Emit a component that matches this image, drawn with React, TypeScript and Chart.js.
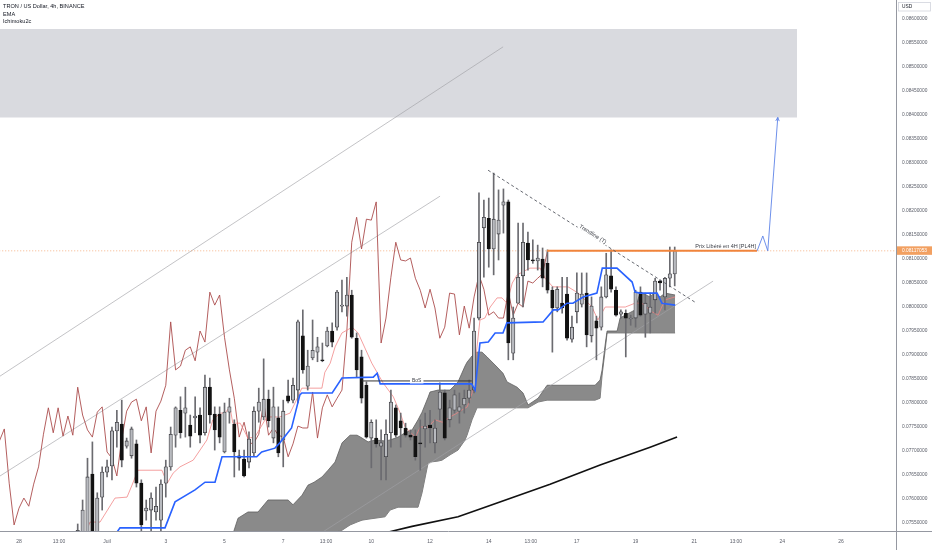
import React, { useEffect, useRef } from "react";
import { Chart, registerables } from "chart.js";

Chart.register(...registerables);

// ---------- Candles (4h bars, bar index 0 = 30 juin 00:00) ----------
const opens = [
  0.07504, 0.07515, 0.07504, 0.07652, 0.07515, 0.07604, 0.07656, 0.07669, 0.07742, 0.07756,
  0.07710, 0.07690, 0.07715, 0.07633, 0.07575, 0.07577, 0.07573, 0.07556, 0.07633, 0.07667,
  0.07733, 0.07785, 0.07779, 0.07754, 0.07769, 0.07775, 0.07738, 0.07833, 0.07777, 0.07777,
  0.07698, 0.07781, 0.07756, 0.07690, 0.07683, 0.07677, 0.07696, 0.07783, 0.07771, 0.07808,
  0.07727, 0.07769, 0.07723, 0.07815, 0.07806, 0.07827, 0.07940, 0.07835, 0.07894, 0.07906,
  0.07890, 0.07919, 0.07950, 0.07958, 0.08002, 0.08002, 0.08025, 0.07935, 0.07896, 0.07837,
  0.07727, 0.07727, 0.07710, 0.07688, 0.07738, 0.07790, 0.07763, 0.07748, 0.07733, 0.07731,
  0.07717, 0.07746, 0.07754, 0.07717, 0.07787, 0.07821, 0.07765, 0.07785, 0.07783, 0.07796,
  0.07810, 0.07827, 0.07977, 0.08165, 0.08185, 0.08121, 0.08152, 0.08212, 0.08219, 0.07904,
  0.08008, 0.08065, 0.08133, 0.08098, 0.08096, 0.08100, 0.08091, 0.08035, 0.07998, 0.08008,
  0.08027, 0.07933, 0.07990, 0.08006, 0.08029, 0.07940, 0.07971, 0.07958, 0.08021, 0.08065,
  0.08035, 0.07985, 0.07987, 0.07975, 0.07977, 0.08031, 0.07985, 0.07987, 0.08015, 0.08054,
  0.08021, 0.08060, 0.08069,
];
const highs = [
  0.07548, 0.07598, 0.07685, 0.07719, 0.07613, 0.07667, 0.07681, 0.07750, 0.07785, 0.07806,
  0.07727, 0.07750, 0.07723, 0.07640, 0.07598, 0.07613, 0.07625, 0.07640, 0.07681, 0.07750,
  0.07792, 0.07813, 0.07833, 0.07775, 0.07813, 0.07790, 0.07858, 0.07852, 0.07792, 0.07792,
  0.07800, 0.07810, 0.07765, 0.07702, 0.07702, 0.07740, 0.07792, 0.07831, 0.07892, 0.07827,
  0.07833, 0.07792, 0.07806, 0.07848, 0.07852, 0.07973, 0.07994, 0.07910, 0.07973, 0.07937,
  0.07925, 0.07958, 0.07967, 0.08035, 0.08056, 0.08062, 0.08035, 0.07946, 0.07910, 0.07844,
  0.07765, 0.07765, 0.07744, 0.07765, 0.07827, 0.07796, 0.07779, 0.07758, 0.07744, 0.07744,
  0.07765, 0.07779, 0.07785, 0.07765, 0.07842, 0.07827, 0.07806, 0.07827, 0.07821, 0.07827,
  0.07848, 0.07977, 0.08238, 0.08223, 0.08227, 0.08279, 0.08244, 0.08246, 0.08223, 0.08000,
  0.08175, 0.08175, 0.08156, 0.08140, 0.08129, 0.08123, 0.08119, 0.08042, 0.08042, 0.08062,
  0.08062, 0.07981, 0.08071, 0.08071, 0.08071, 0.08021, 0.07981, 0.08042, 0.08112, 0.08119,
  0.08042, 0.07994, 0.07994, 0.07983, 0.08035, 0.08042, 0.08029, 0.08029, 0.08060, 0.08056,
  0.08062, 0.08125, 0.08125,
];
const lows = [
  0.07494, 0.07504, 0.07494, 0.07494, 0.07504, 0.07577, 0.07646, 0.07640, 0.07708, 0.07667,
  0.07706, 0.07685, 0.07625, 0.07529, 0.07556, 0.07521, 0.07556, 0.07521, 0.07604, 0.07660,
  0.07708, 0.07727, 0.07729, 0.07708, 0.07738, 0.07717, 0.07733, 0.07758, 0.07702, 0.07717,
  0.07696, 0.07758, 0.07646, 0.07660, 0.07646, 0.07665, 0.07688, 0.07760, 0.07765, 0.07750,
  0.07717, 0.07688, 0.07667, 0.07800, 0.07800, 0.07800, 0.07862, 0.07827, 0.07890, 0.07886,
  0.07886, 0.07917, 0.07917, 0.07952, 0.07990, 0.07981, 0.07935, 0.07854, 0.07800, 0.07727,
  0.07665, 0.07708, 0.07640, 0.07640, 0.07708, 0.07729, 0.07708, 0.07729, 0.07723, 0.07681,
  0.07660, 0.07708, 0.07717, 0.07696, 0.07765, 0.07723, 0.07750, 0.07779, 0.07758, 0.07779,
  0.07800, 0.07821, 0.07973, 0.08062, 0.08083, 0.08067, 0.08098, 0.08154, 0.07890, 0.07890,
  0.08008, 0.08000, 0.08077, 0.08091, 0.08077, 0.08042, 0.08029, 0.07906, 0.07990, 0.07987,
  0.07931, 0.07927, 0.07967, 0.08000, 0.07917, 0.07927, 0.07890, 0.07952, 0.08019, 0.08031,
  0.07981, 0.07977, 0.07896, 0.07962, 0.07958, 0.07981, 0.07937, 0.07946, 0.07987, 0.08035,
  0.07994, 0.08042, 0.08044,
];
const closes = [
  0.07535, 0.07577, 0.07646, 0.07504, 0.07602, 0.07656, 0.07667, 0.07742, 0.07760, 0.07681,
  0.07721, 0.07746, 0.07633, 0.07546, 0.07581, 0.07602, 0.07585, 0.07631, 0.07667, 0.07735,
  0.07790, 0.07738, 0.07790, 0.07731, 0.07773, 0.07733, 0.07833, 0.07775, 0.07744, 0.07729,
  0.07781, 0.07792, 0.07698, 0.07685, 0.07648, 0.07725, 0.07783, 0.07802, 0.07808, 0.07763,
  0.07792, 0.07696, 0.07783, 0.07804, 0.07837, 0.07969, 0.07869, 0.07877, 0.07910, 0.07917,
  0.07888, 0.07950, 0.07927, 0.08031, 0.08004, 0.08025, 0.07937, 0.07869, 0.07810, 0.07729,
  0.07760, 0.07715, 0.07717, 0.07735, 0.07802, 0.07733, 0.07748, 0.07733, 0.07729, 0.07688,
  0.07715, 0.07752, 0.07748, 0.07748, 0.07823, 0.07727, 0.07790, 0.07817, 0.07792, 0.07810,
  0.07827, 0.07950, 0.08135, 0.08187, 0.08121, 0.08183, 0.08181, 0.08219, 0.07925, 0.07977,
  0.08062, 0.08135, 0.08098, 0.08096, 0.08102, 0.08060, 0.08035, 0.07998, 0.08037, 0.07998,
  0.07935, 0.07958, 0.08029, 0.08027, 0.07942, 0.08002, 0.07956, 0.08021, 0.08067, 0.08037,
  0.07983, 0.07990, 0.07977, 0.07977, 0.08031, 0.07983, 0.08008, 0.08000, 0.08054, 0.08050,
  0.08060, 0.08069, 0.08117,
];
const CHIKOU_SHIFT = 26;

// ---------- Ichimoku / EMA (x = bar index) ----------
const kijunIdx = [7.21, 8.64, 17.84, 19.89, 23.97, 26.02, 28.06, 29.49, 36.58, 37.6, 40.3, 41.3, 43.7, 45.4, 45.8, 52.0, 54.0, 60.4, 61.2, 61.8, 80.5, 81.2, 82.2, 83.9, 85.3, 86.9, 87.7, 95.1, 97.2, 98.2, 100.0, 101.2, 103.3, 106.1, 107.2, 110.2, 113.3, 113.9, 114.9, 118.4, 119.4, 122.1];
const kijunVal = [0.07519, 0.0754, 0.0754, 0.07594, 0.07619, 0.07635, 0.07635, 0.07688, 0.07688, 0.07698, 0.07706, 0.07717, 0.07748, 0.07817, 0.07821, 0.07821, 0.07852, 0.07854, 0.07862, 0.0784, 0.0784, 0.07827, 0.07925, 0.07927, 0.07946, 0.07946, 0.07967, 0.07969, 0.07994, 0.07994, 0.08008, 0.08008, 0.08021, 0.08029, 0.08081, 0.08081, 0.08052, 0.08031, 0.08029, 0.08029, 0.08008, 0.08004];

const tenkanIdx = [1.49, 2.51, 4.56, 7.62, 10.08, 11.1, 12.3, 17.2, 18.3, 19.5, 20.9, 23.6, 26.4, 27.6, 29.1, 30.1, 31.1, 31.7, 33.2, 34.8, 36.2, 38.3, 39.3, 41.3, 43.4, 44.4, 45.8, 49.9, 50.5, 51.6, 52.6, 54.0, 56.1, 57.3, 60.1, 62.4, 64.5, 65.9, 66.9, 69.0, 70.0, 71.6, 73.0, 74.5, 76.1, 77.5, 79.6, 80.6, 81.6, 82.2, 83.2, 84.3, 85.7, 86.7, 87.7, 88.8, 89.8, 92.4, 94.5, 95.5, 97.1, 100.2, 102.3, 105.1, 106.3, 107.8, 111.9, 113.9, 115.3, 117.4, 118.6, 120.0, 122.1];
const tenkanVal = [0.07525, 0.07552, 0.07552, 0.07602, 0.07604, 0.07629, 0.0766, 0.0766, 0.07633, 0.07654, 0.07667, 0.07681, 0.07723, 0.07765, 0.07779, 0.07779, 0.07792, 0.07758, 0.07758, 0.07727, 0.07729, 0.07765, 0.07771, 0.07771, 0.07779, 0.078, 0.07831, 0.07831, 0.07864, 0.07883, 0.07917, 0.07946, 0.07958, 0.07946, 0.07883, 0.07842, 0.07813, 0.07779, 0.0775, 0.07729, 0.0775, 0.0775, 0.07765, 0.0776, 0.07771, 0.07779, 0.07792, 0.07821, 0.07917, 0.07973, 0.07977, 0.08, 0.08019, 0.08019, 0.08008, 0.0805, 0.08067, 0.08081, 0.08081, 0.0806, 0.08042, 0.08042, 0.08029, 0.08, 0.07973, 0.08, 0.08, 0.08008, 0.08008, 0.0799, 0.07983, 0.08015, 0.08021];

const cloudIdx = [31.33, 32.76, 34.8, 36.85, 38.89, 42.98, 44.0, 45.84, 47.07, 47.89, 48.3, 49.93, 51.16, 52.59, 54.02, 55.66, 57.09, 58.11, 59.34, 60.77, 62.81, 63.83, 65.46, 66.9, 68.33, 69.55, 70.37, 71.6, 72.0, 73.64, 74.45, 76.09, 77.72, 79.15, 79.56, 80.58, 81.6, 82.62, 83.65, 85.69, 86.91, 87.73, 89.78, 91.0, 92.03, 94.08, 95.92, 105.73, 106.75, 107.16, 107.78, 108.18, 110.23, 110.84, 111.86, 113.91, 114.93, 116.97, 117.99, 119.01, 120.04, 122.08];
const cloudTop = [0.07515, 0.0756, 0.07573, 0.07573, 0.07598, 0.07598, 0.07588, 0.07608, 0.07629, 0.07633, 0.07635, 0.07646, 0.0766, 0.07677, 0.07717, 0.07733, 0.07733, 0.07727, 0.07719, 0.07723, 0.07721, 0.07723, 0.07729, 0.07738, 0.07744, 0.07765, 0.07781, 0.07812, 0.07823, 0.07827, 0.07827, 0.07827, 0.07844, 0.07877, 0.07885, 0.07898, 0.07906, 0.07906, 0.07896, 0.07875, 0.07862, 0.07844, 0.07833, 0.07821, 0.07796, 0.0781, 0.07837, 0.07837, 0.07848, 0.07869, 0.07921, 0.0795, 0.0795, 0.07977, 0.07983, 0.07994, 0.08031, 0.08021, 0.08031, 0.08021, 0.08029, 0.08025];
const cloudBottom = [0.07504, 0.07504, 0.07504, 0.07504, 0.07504, 0.07504, 0.07504, 0.07504, 0.07504, 0.07504, 0.07531, 0.07531, 0.07531, 0.07531, 0.07535, 0.07546, 0.07552, 0.07556, 0.07558, 0.0756, 0.07563, 0.07577, 0.07583, 0.07583, 0.07583, 0.07583, 0.07613, 0.07675, 0.07677, 0.07679, 0.07681, 0.07692, 0.07702, 0.07723, 0.07733, 0.07765, 0.0779, 0.0779, 0.0779, 0.0779, 0.0779, 0.0779, 0.0779, 0.0779, 0.0779, 0.07802, 0.07806, 0.07806, 0.0781, 0.07858, 0.0791, 0.07946, 0.07946, 0.07946, 0.07946, 0.07946, 0.07946, 0.07946, 0.07946, 0.07946, 0.07946, 0.07946];

const emaIdx = [56.67, 61.78, 68.33, 77.72, 83.24, 96.53, 106.75, 116.97, 122.48];
const emaVal = [0.07515, 0.07527, 0.07543, 0.07563, 0.07583, 0.07631, 0.07671, 0.07708, 0.07729];

// ---------- Drawings ----------
const channelAIdx = [-15.88, 86.93];
const channelAVal = [0.07856, 0.08542];
const channelBIdx = [-15.88, 74.05];
const channelBVal = [0.07648, 0.08231];
const channelCIdx = [48.5, 129.84];
const channelCVal = [0.07521, 0.08054];
const trendIdx = [83.86, 126.16];
const trendVal = [0.08285, 0.0801];
const lastPrice = 0.08117053;
const levelSolidIdx = [95.92, 138.84];
const projIdx = [138.84, 140.0, 141.02, 143.06];
const projVal = [0.08117, 0.08148, 0.08117, 0.08395];
const zoneIdx = [-16, 147.0];
const zoneTop = 0.08579;
const zoneBottom = 0.08395;
const bosIdx = [58.04, 80.52];
const bosVal = 0.07846;

// ---------- Axes ----------
const X_MIN = -15.88;
const X_MAX = 167.22;
const Y_MIN = 0.075334;
const Y_MAX = 0.086396;
const xTickPos = [-12, -3.83, 6, 18, 30, 42, 50.74, 60, 72, 84, 92.6, 102, 114, 126, 134.5, 144, 156];
const xTickLabels = ["28", "13:00", "Juil", "3", "5", "7", "13:00", "10", "12", "14", "13:00", "17", "19", "21", "13:00", "24", "26"];
const yTicks = [0.0755, 0.076, 0.0765, 0.077, 0.0775, 0.078, 0.0785, 0.079, 0.0795, 0.08, 0.0805, 0.081, 0.0815, 0.082, 0.0825, 0.083, 0.0835, 0.084, 0.0845, 0.085, 0.0855, 0.086];
const legendLines = ["TRON / US Dollar, 4h, BINANCE", "EMA", "Ichimoku2c"];

const FONT = "'Liberation Sans', Arial, sans-serif";

const pts = (xs: number[], ys: number[]) => xs.map((v, i) => ({ x: v, y: ys[i] }));

const line = (data: any[], color: string, width: number, order: number, extra: any = {}) => ({
  type: "line" as const,
  data,
  borderColor: color,
  borderWidth: width,
  pointRadius: 0,
  tension: 0,
  fill: false,
  order,
  ...extra,
});

const annotations = {
  id: "tvAnnotations",
  afterDraw(chart: any) {
    const { ctx, chartArea } = chart;
    const xs = chart.scales.x;
    const ys = chart.scales.y;
    ctx.save();

    // axis extensions
    ctx.strokeStyle = "#9598a1";
    ctx.lineWidth = 1;
    ctx.beginPath();
    ctx.moveTo(chartArea.right + 0.5, chartArea.bottom);
    ctx.lineTo(chartArea.right + 0.5, chart.height);
    ctx.moveTo(chartArea.right, chartArea.bottom + 0.5);
    ctx.lineTo(chart.width, chartArea.bottom + 0.5);
    ctx.stroke();

    // legend
    ctx.textAlign = "left";
    ctx.textBaseline = "middle";
    ctx.fillStyle = "#131722";
    ctx.font = `5.6px ${FONT}`;
    ctx.fillText(legendLines[0], 3, 6.8);
    ctx.fillText(legendLines[1], 3, 14.4);
    ctx.fillText(legendLines[2], 3, 21.8);

    // USD box
    ctx.strokeStyle = "#d1d4dc";
    ctx.lineWidth = 0.8;
    ctx.strokeRect(898.5, 2.5, 32, 8.5);
    ctx.fillStyle = "#131722";
    ctx.font = `4.8px ${FONT}`;
    ctx.fillText("USD", 902, 6.8);

    // price label
    const py = ys.getPixelForValue(lastPrice);
    ctx.fillStyle = "#f2a061";
    ctx.fillRect(chartArea.right + 1, py - 4.5, 35, 8.5);
    ctx.fillStyle = "#ffffff";
    ctx.font = `4.8px ${FONT}`;
    ctx.fillText(lastPrice.toFixed(8), chartArea.right + 6, py - 0.2);

    // PL4H text
    ctx.fillStyle = "#3a3d45";
    ctx.font = `5.5px ${FONT}`;
    ctx.textAlign = "right";
    ctx.textBaseline = "bottom";
    ctx.fillText("Prix Libéré en 4H [PL4H]", xs.getPixelForValue(levelSolidIdx[1]) - 1, py - 1.5);

    // Trendline text
    const x1 = xs.getPixelForValue(trendIdx[0]);
    const y1 = ys.getPixelForValue(trendVal[0]);
    const x2 = xs.getPixelForValue(trendIdx[1]);
    const y2 = ys.getPixelForValue(trendVal[1]);
    const ang = Math.atan2(y2 - y1, x2 - x1);
    const mx = (x1 + x2) / 2 + Math.sin(ang) * 2.2;
    const my = (y1 + y2) / 2 - Math.cos(ang) * 2.2;
    ctx.save();
    ctx.translate(mx, my);
    ctx.rotate(ang);
    ctx.font = `5.5px ${FONT}`;
    const tw = ctx.measureText("Trendline (T)").width;
    ctx.fillStyle = "#ffffff";
    ctx.fillRect(-tw / 2 - 1, -3, tw + 2, 6);
    ctx.fillStyle = "#3a3d45";
    ctx.textAlign = "center";
    ctx.textBaseline = "middle";
    ctx.fillText("Trendline (T)", 0, 0);
    ctx.restore();

    // BoS text
    const bx = xs.getPixelForValue((bosIdx[0] + bosIdx[1]) / 2);
    const by = ys.getPixelForValue(bosVal);
    ctx.font = `5px ${FONT}`;
    const bw = ctx.measureText("BoS").width;
    ctx.fillStyle = "#ffffff";
    ctx.fillRect(bx - bw / 2 - 2, by - 2.5, bw + 4, 5);
    ctx.fillStyle = "#3a3d45";
    ctx.textAlign = "center";
    ctx.textBaseline = "middle";
    ctx.fillText("BoS", bx, by);

    // projection arrow head
    const n = projIdx.length;
    const ax = xs.getPixelForValue(projIdx[n - 1]);
    const ay = ys.getPixelForValue(projVal[n - 1]);
    const bx2 = xs.getPixelForValue(projIdx[n - 2]);
    const by2 = ys.getPixelForValue(projVal[n - 2]);
    const a = Math.atan2(ay - by2, ax - bx2);
    ctx.strokeStyle = "rgba(85,125,230,0.85)";
    ctx.lineWidth = 1;
    ctx.beginPath();
    ctx.moveTo(ax - 4 * Math.cos(a - 0.45), ay - 4 * Math.sin(a - 0.45));
    ctx.lineTo(ax, ay);
    ctx.lineTo(ax - 4 * Math.cos(a + 0.45), ay - 4 * Math.sin(a + 0.45));
    ctx.stroke();

    ctx.restore();
  },
};

export default function App() {
  const ref = useRef<HTMLCanvasElement | null>(null);

  useEffect(() => {
    if (!ref.current) return;
    const upColor = "#b8babf";
    const downColor = "#121212";
    const isUp = opens.map((o, i) => closes[i] >= o);

    const datasets: any[] = [
      line(pts(zoneIdx, [zoneTop, zoneTop]), "rgba(0,0,0,0)", 0, 100, {
        fill: { value: zoneBottom },
        backgroundColor: "#d9dadf",
      }),
      line(pts(channelAIdx, channelAVal), "rgba(160,160,165,0.8)", 0.8, 90),
      line(pts(channelBIdx, channelBVal), "rgba(160,160,165,0.8)", 0.8, 90),
      line(pts(cloudIdx, cloudTop), "#5e5e5e", 0.8, 80, {
        fill: "+1",
        backgroundColor: "rgba(128,128,128,0.92)",
      }),
      line(pts(cloudIdx, cloudBottom), "#5e5e5e", 0.8, 80),
      line(pts(channelCIdx, channelCVal), "rgba(160,160,165,0.8)", 0.8, 78),
      line(pts(emaIdx, emaVal), "#111111", 1.6, 70),
      line(pts([X_MIN - 2, X_MAX + 2], [lastPrice, lastPrice]), "rgba(240,150,90,0.9)", 0.8, 65, {
        borderDash: [1, 2],
      }),
      line(
        closes.map((c, i) => ({ x: i - CHIKOU_SHIFT, y: c })),
        "rgba(172,78,78,0.9)",
        1,
        60
      ),
      line(pts(tenkanIdx, tenkanVal), "rgba(240,130,130,0.85)", 0.9, 55),
      {
        type: "bar",
        data: highs.map((h, i) => ({ x: i, y: [lows[i], h] })),
        backgroundColor: "#6b6b70",
        barThickness: 1,
        grouped: false,
        order: 50,
      },
      {
        type: "bar",
        data: opens.map((o, i) => ({ x: i, y: [o, closes[i]] })),
        backgroundColor: isUp.map((u) => (u ? upColor : downColor)),
        borderColor: isUp.map((u) => (u ? "#3c3c40" : downColor)),
        borderWidth: 0.8,
        borderSkipped: false,
        minBarLength: 1,
        barThickness: 3.4,
        grouped: false,
        order: 45,
      },
      line(pts(kijunIdx, kijunVal), "#2962ff", 1.6, 40),
      line(pts(levelSolidIdx, [lastPrice, lastPrice]), "#f0843c", 2, 35),
      line(pts(trendIdx, trendVal), "#555861", 0.9, 30, { borderDash: [3, 2.5] }),
      line(pts(projIdx, projVal), "rgba(85,125,230,0.85)", 1, 25),
      line(pts(bosIdx, [bosVal, bosVal]), "#333333", 1, 20),
    ];

    const noPad = (axis: any) => {
      axis.paddingTop = 0;
      axis.paddingBottom = 0;
      axis.paddingLeft = 0;
      axis.paddingRight = 0;
    };

    const chart = new Chart(ref.current, {
      type: "bar",
      data: { datasets },
      plugins: [annotations],
      options: {
        animation: false,
        responsive: false,
        events: [],
        layout: { padding: 0 },
        plugins: { legend: { display: false }, tooltip: { enabled: false } },
        scales: {
          x: {
            type: "linear",
            min: X_MIN,
            max: X_MAX,
            offset: false,
            grid: { display: false, drawTicks: false },
            border: { display: true, color: "#9598a1", width: 1 },
            afterBuildTicks: (axis: any) => {
              axis.ticks = xTickPos.map((v) => ({ value: v }));
            },
            afterFit: (axis: any) => {
              axis.height = 19;
              noPad(axis);
            },
            ticks: {
              autoSkip: false,
              maxRotation: 0,
              padding: 8,
              color: "#5d606b",
              font: { size: 5, family: FONT },
              callback: (_v: any, i: number) => xTickLabels[i],
            },
          },
          y: {
            type: "linear",
            position: "right",
            min: Y_MIN,
            max: Y_MAX,
            grid: { display: false, drawTicks: false },
            border: { display: true, color: "#9598a1", width: 1 },
            afterBuildTicks: (axis: any) => {
              axis.ticks = yTicks.map((v) => ({ value: v }));
            },
            afterFit: (axis: any) => {
              axis.width = 36;
              noPad(axis);
            },
            ticks: {
              autoSkip: false,
              padding: 6,
              color: "#5d606b",
              font: { size: 4.8, family: FONT },
              callback: (v: any) => Number(v).toFixed(8),
            },
          },
        },
      } as any,
    });
    return () => chart.destroy();
  }, []);

  return (
    <div style={{ position: "fixed", left: 0, top: 0, width: 932, height: 550, background: "#ffffff" }}>
      <canvas ref={ref} width={932} height={550} style={{ display: "block", width: 932, height: 550 }} />
    </div>
  );
}
